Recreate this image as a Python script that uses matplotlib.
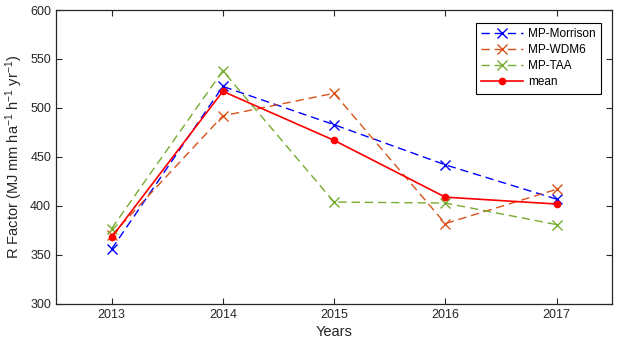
import matplotlib
matplotlib.use('Agg')
import matplotlib.pyplot as plt

plt.rcParams['font.family'] = ['Liberation Sans', 'DejaVu Sans']
plt.rcParams['mathtext.default'] = 'regular'

years = [2013, 2014, 2015, 2016, 2017]
morrison = [356, 522, 483, 442, 407]
wdm6 = [370, 492, 515, 382, 417]
taa = [377, 538, 404, 403, 381]
mean = [368, 517, 467, 409, 402]

fig = plt.figure(figsize=(6.2, 3.51), dpi=100)
ax = fig.add_axes([0.0903, 0.134, 0.897, 0.8375])

ax.plot(years, morrison, color=(0, 0, 1), ls='--', dashes=(6, 3.5), lw=1.0,
        marker='x', ms=6.5, mew=1.0, label='MP-Morrison')
ax.plot(years, wdm6, color=(0.85, 0.325, 0.098), ls='--', dashes=(6, 3.5), lw=1.0,
        marker='x', ms=6.5, mew=1.0, label='MP-WDM6')
ax.plot(years, taa, color=(0.466, 0.674, 0.188), ls='--', dashes=(6, 3.5), lw=1.0,
        marker='x', ms=6.5, mew=1.0, label='MP-TAA')
ax.plot(years, mean, color='red', lw=1.2, marker='o', ms=4.5, label='mean')

ax.set_xlim(2012.5, 2017.5)
ax.set_ylim(300, 600)
ax.set_xticks(years)
ax.set_yticks(range(300, 601, 50))
ax.tick_params(direction='in', top=True, right=True, labelsize=9,
               length=4, width=0.8, colors='#262626')
for s in ax.spines.values():
    s.set_linewidth(0.9)
    s.set_color('#262626')

ax.set_xlabel('Years', fontsize=10.5, color='#262626', labelpad=3)
ax.set_ylabel('R Factor (MJ mm ha$^{-1}$ h$^{-1}$ yr$^{-1}$)', fontsize=10.5,
              color='#262626', labelpad=4)

leg = ax.legend(loc='upper right', bbox_to_anchor=(0.98, 0.957), borderaxespad=0,
                fontsize=8.5, fancybox=False, framealpha=1, edgecolor='black',
                handlelength=3.6, handletextpad=0.4, borderpad=0.45,
                labelspacing=0.35)
leg.get_frame().set_linewidth(0.8)

fig.savefig('out.png', dpi=100)
